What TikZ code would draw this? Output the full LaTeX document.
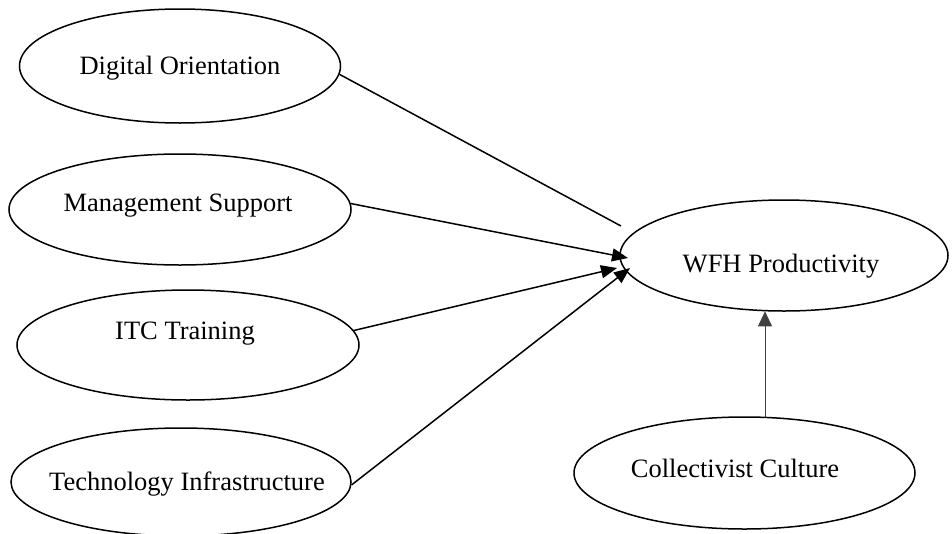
\documentclass[tikz,border=0pt]{standalone}
\usepackage{fontspec}
\setmainfont{Liberation Serif}
\usetikzlibrary{shapes.geometric,arrows.meta}
\begin{document}
\begin{tikzpicture}[x=1pt,y=-1pt,
  oval/.style={draw, ellipse, line width=1.5pt, inner sep=0pt},
  lbl/.style={font=\fontsize{26.5}{30}\selectfont, inner sep=0pt},
  conn/.style={line width=1.5pt},
  arr/.style={conn, -{Triangle[length=16pt,width=13pt]}},
  varr/.style={line width=1pt, draw=black!75, -{Triangle[length=15pt,width=14pt]}},
]
\useasboundingbox (0,0) rectangle (952,533);
\clip (0,0) rectangle (952,533);

% ellipses
\node[oval, minimum width=321pt, minimum height=114pt] (do)  at (180,66)    {};
\node[oval, minimum width=342pt, minimum height=111pt] (ms)  at (180,209.5) {};
\node[oval, minimum width=342pt, minimum height=110pt] (itc) at (188,345)   {};
\node[oval, minimum width=340pt, minimum height=108pt] (ti)  at (181,482)   {};
\node[oval, minimum width=328pt, minimum height=111pt] (wfh) at (784,255.5) {};
\node[oval, minimum width=341pt, minimum height=112pt] (cc)  at (744.5,473) {};

% labels
\node[lbl] (dot)  at (180,68)  {Digital Orientation};
\node[lbl] (mst)  at (178,206) {Management Support};
\node[lbl] (itct) at (185,334) {ITC Training};
\node[lbl] (tit)  at (187,484) {Technology Infrastructure};
\node[lbl] (wfht) at (781,266) {WFH Productivity};
\node[lbl] (cct)  at (735,468) {Collectivist Culture};

% arrow end points
\coordinate (e1) at (621,226);
\coordinate (t2) at (628,258);
\coordinate (t3) at (617,268);
\coordinate (t4) at (630,268);

\draw[conn] (do.-3) -- (e1);
\draw[arr] (ms.2.5) -- (t2);
\draw[arr] (itc.5) -- (t3);
\draw[arr] (ti.-1) -- (t4);
\draw[varr] (cc.70.7) -- (cc.70.7 |- wfh.-110);
\end{tikzpicture}
\end{document}
